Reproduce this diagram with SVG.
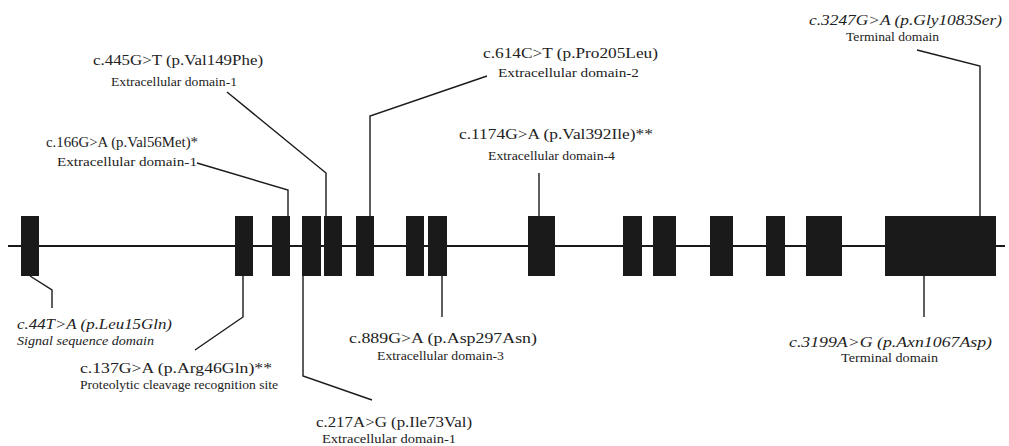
<svg xmlns="http://www.w3.org/2000/svg" width="1009" height="446" viewBox="0 0 1009 446">
<style>
.bb{stroke:#1a1a1a;stroke-width:2;fill:none}
.ex{fill:#1a1a1a}
.ld{stroke:#1a1a1a;stroke-width:1.4;fill:none}
.m{font-family:"Liberation Serif",serif;font-size:15px;fill:#222}
.d{font-family:"Liberation Serif",serif;font-size:11.5px;fill:#222}
.i{font-style:italic}
</style>
<rect width="1009" height="446" fill="#fff"/>
<g id="gene">
<line class="bb" x1="8" y1="246" x2="1005" y2="246"/>
</g>
<g id="exons">
<rect id="exon1" class="ex" x="21" y="216" width="18" height="60"/>
<rect id="exon2" class="ex" x="235" y="216" width="18" height="60"/>
<rect id="exon3" class="ex" x="272" y="216" width="18" height="60"/>
<rect id="exon4" class="ex" x="302" y="216" width="19" height="60"/>
<rect id="exon5" class="ex" x="324" y="216" width="18" height="60"/>
<rect id="exon6" class="ex" x="356" y="216" width="18" height="60"/>
<rect id="exon7" class="ex" x="406" y="216" width="18" height="60"/>
<rect id="exon8" class="ex" x="428" y="216" width="19" height="60"/>
<rect id="exon9" class="ex" x="528" y="216" width="27" height="60"/>
<rect id="exon10" class="ex" x="623" y="216" width="19" height="60"/>
<rect id="exon11" class="ex" x="653" y="216" width="23" height="60"/>
<rect id="exon12" class="ex" x="710" y="216" width="23" height="60"/>
<rect id="exon13" class="ex" x="766" y="216" width="19" height="60"/>
<rect id="exon14" class="ex" x="806" y="216" width="36" height="60"/>
<rect id="exon15" class="ex" x="885" y="216" width="111" height="60"/>
</g>
<g id="connectors">
<polyline class="ld" points="30,276 52,290 52,308"/>
<polyline class="ld" points="243,276 243,317 195,350"/>
<polyline class="ld" points="303,276 303,376 372,400"/>
<polyline class="ld" points="442,276 442,317"/>
<polyline class="ld" points="924,276 924,317"/>
<polyline class="ld" points="197,163 288,190 288,216"/>
<polyline class="ld" points="227,92 326,173 326,216"/>
<polyline class="ld" points="487,76 370,116 370,216"/>
<polyline class="ld" points="539,173 539,216"/>
<polyline class="ld" points="917,50 980,66 980,216"/>
</g>
<g id="label-c44">
<text class="m i" x="17" y="329" textLength="155" lengthAdjust="spacingAndGlyphs">c.44T&gt;A (p.Leu15Gln)</text>
<text class="d i" x="17" y="345" textLength="137" lengthAdjust="spacingAndGlyphs">Signal sequence domain</text>
</g>
<g id="label-c137">
<text class="m" x="80" y="373" textLength="192" lengthAdjust="spacingAndGlyphs">c.137G&gt;A (p.Arg46Gln)**</text>
<text class="d" x="80" y="389" textLength="198" lengthAdjust="spacingAndGlyphs">Proteolytic cleavage recognition site</text>
</g>
<g id="label-c217">
<text class="m" x="316" y="427" textLength="156" lengthAdjust="spacingAndGlyphs">c.217A&gt;G (p.Ile73Val)</text>
<text class="d" x="322" y="443" textLength="134" lengthAdjust="spacingAndGlyphs">Extracellular domain-1</text>
</g>
<g id="label-c889">
<text class="m" x="349" y="343" textLength="188" lengthAdjust="spacingAndGlyphs">c.889G&gt;A (p.Asp297Asn)</text>
<text class="d" x="377" y="360" textLength="127" lengthAdjust="spacingAndGlyphs">Extracellular domain-3</text>
</g>
<g id="label-c3199">
<text class="m i" x="789" y="347" textLength="203" lengthAdjust="spacingAndGlyphs">c.3199A&gt;G (p.Axn1067Asp)</text>
<text class="d" x="841" y="362" textLength="97" lengthAdjust="spacingAndGlyphs">Terminal domain</text>
</g>
<g id="label-c166">
<text class="m" x="46" y="147" textLength="152" lengthAdjust="spacingAndGlyphs">c.166G&gt;A (p.Val56Met)*</text>
<text class="d" x="57" y="166" textLength="140" lengthAdjust="spacingAndGlyphs">Extracellular domain-1</text>
</g>
<g id="label-c445">
<text class="m" x="93" y="65" textLength="170" lengthAdjust="spacingAndGlyphs">c.445G&gt;T (p.Val149Phe)</text>
<text class="d" x="111" y="86" textLength="126" lengthAdjust="spacingAndGlyphs">Extracellular domain-1</text>
</g>
<g id="label-c614">
<text class="m" x="483" y="58" textLength="175" lengthAdjust="spacingAndGlyphs">c.614C&gt;T (p.Pro205Leu)</text>
<text class="d" x="498" y="77" textLength="141" lengthAdjust="spacingAndGlyphs">Extracellular domain-2</text>
</g>
<g id="label-c1174">
<text class="m" x="459" y="139" textLength="194" lengthAdjust="spacingAndGlyphs">c.1174G&gt;A (p.Val392Ile)**</text>
<text class="d" x="488" y="160" textLength="127" lengthAdjust="spacingAndGlyphs">Extracellular domain-4</text>
</g>
<g id="label-c3247">
<text class="m i" x="809" y="25" textLength="193" lengthAdjust="spacingAndGlyphs">c.3247G&gt;A (p.Gly1083Ser)</text>
<text class="d" x="846" y="41" textLength="93" lengthAdjust="spacingAndGlyphs">Terminal domain</text>
</g>
</svg>
